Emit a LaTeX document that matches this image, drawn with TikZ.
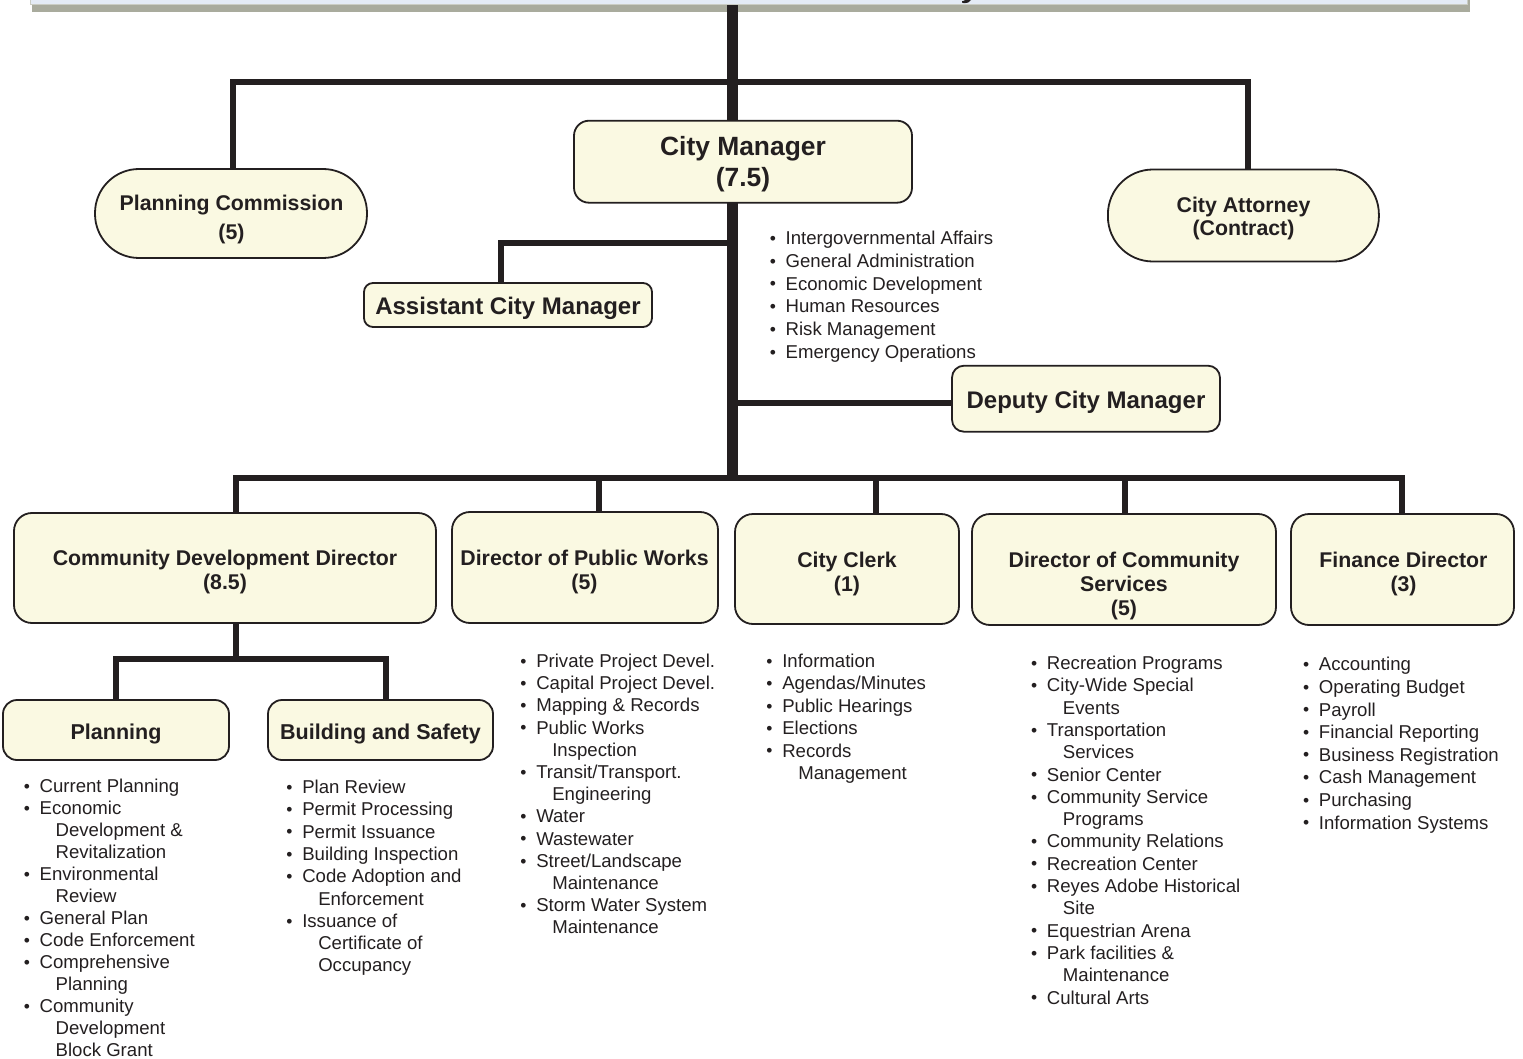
\documentclass[tikz,border=0pt]{standalone}
\usepackage{fontspec}
\setmainfont{Liberation Sans}
\usetikzlibrary{backgrounds}
\definecolor{ink}{RGB}{35,31,32}
\definecolor{boxfill}{RGB}{250,249,226}
\definecolor{bannerfill}{RGB}{228,235,245}
\definecolor{bannershade}{RGB}{169,171,157}
\newcommand{\fs}[2]{\fontsize{#1}{#2}\selectfont}
\newcommand{\bl}[1]{\strut\makebox[16pt][l]{\hspace{0.2pt}\raisebox{0.3pt}{\fs{17.5}{17.5}\textbullet}}#1}
\newcommand{\cl}[1]{\strut\hspace*{32pt}#1}
\tikzset{
  orgbox/.style={draw=ink, line width=1.8pt, fill=boxfill, inner sep=0pt},
  conn/.style={draw=ink, line width=6pt, line join=miter},
  trunkline/.style={draw=ink, line width=11pt},
  ttl/.style={inner sep=0pt, align=center, text=ink},
  blist/.style={anchor=north west, inner sep=0pt, align=left, text=ink},
}
\begin{document}
\begin{tikzpicture}[x=1pt,y=-1pt]
\useasboundingbox (0,0) rectangle (1523,1059);

% banner (cut off at the top)
\node[fill=bannerfill, draw=bannershade!60!white, line width=0.6pt, minimum width=1437pt, minimum height=25pt, inner sep=0pt, anchor=south west] (banner) at (30,5) {};
\fill[ink] (965,0) -- (971,0) .. controls (970,2) and (968,3) .. (964,3.2) .. controls (962.3,3.2) and (961.6,2.2) .. (962,1.2) .. controls (963.5,1) and (964.5,0.8) .. (965,0) -- cycle;

% City Manager
\node[orgbox, rounded corners=15pt, minimum width=338pt, minimum height=82pt] (cm) at (743,161.7) {};
\node[ttl, anchor=north, font=\fs{26.4}{30.3}\bfseries] (cmt) at (743,134.5) {\strut City Manager\\(7.5)};

% Planning Commission
\node[orgbox, rounded corners=44pt, minimum width=272pt, minimum height=89pt] (pc) at (231,213.5) {};
\node[ttl, anchor=north, font=\fs{21.3}{28.3}\bfseries] (pct) at (231.5,190.9) {\strut Planning Commission\\(5)};

% City Attorney
\node[orgbox, rounded corners=45pt, minimum width=271pt, minimum height=92pt] (ca) at (1243.4,215.5) {};
\node[ttl, anchor=north, font=\fs{21.3}{22.5}\bfseries] (cat) at (1243.5,197) {\strut City Attorney\\(Contract)};

% Assistant City Manager
\node[orgbox, rounded corners=9pt, minimum width=288pt, minimum height=44pt] (acm) at (508,305) {};
\node[ttl, anchor=base, font=\fs{24}{28}\bfseries] (acmt) at (508,314) {Assistant City Manager};

% Deputy City Manager
\node[orgbox, rounded corners=12pt, minimum width=268pt, minimum height=66pt] (dcm) at (1086,398.7) {};
\node[ttl, anchor=base, font=\fs{24}{28}\bfseries] (dcmt) at (1086,408) {Deputy City Manager};

% City Manager functions
\node[blist, font=\fs{18.6}{22.8}] (cml) at (769.45,228.4) {\bl{Intergovernmental Affairs}\\\bl{General Administration}\\\bl{Economic Development}\\\bl{Human Resources}\\\bl{Risk Management}\\\bl{Emergency Operations}};

% department boxes
\node[orgbox, rounded corners=18pt, minimum width=422pt, minimum height=110pt] (cd) at (225,568) {};
\node[ttl, anchor=north, font=\fs{21.3}{24.5}\bfseries] (cdt) at (225,547.85) {\strut Community Development Director\\(8.5)};

\node[orgbox, rounded corners=18pt, minimum width=266pt, minimum height=111pt] (pw) at (585,567.5) {};
\node[ttl, anchor=north, font=\fs{21.3}{24.5}\bfseries] (pwt) at (584.5,547.85) {\strut Director of Public Works\\(5)};

\node[orgbox, rounded corners=18pt, minimum width=224pt, minimum height=110pt] (cc) at (847,569) {};
\node[ttl, anchor=north, font=\fs{21.3}{24.5}\bfseries] (cct) at (847,549.85) {\strut City Clerk\\(1)};

\node[orgbox, rounded corners=18pt, minimum width=304pt, minimum height=111pt] (cs) at (1124,569.5) {};
\node[ttl, anchor=north, font=\fs{21.3}{24}\bfseries] (cst) at (1124,550.2) {\strut Director of Community\\Services\\(5)};

\node[orgbox, rounded corners=18pt, minimum width=223pt, minimum height=111pt] (fd) at (1402.5,569.5) {};
\node[ttl, anchor=north, font=\fs{21.3}{24.5}\bfseries] (fdt) at (1403.5,549.85) {\strut Finance Director\\(3)};

% divisions under Community Development
\node[orgbox, rounded corners=14pt, minimum width=226pt, minimum height=60pt] (pl) at (116,730) {};
\node[ttl, anchor=base, font=\fs{21.5}{25}\bfseries] (plt) at (116,739) {Planning};
\node[orgbox, rounded corners=14pt, minimum width=225pt, minimum height=60pt] (bs) at (380.5,730) {};
\node[ttl, anchor=base, font=\fs{21.5}{25}\bfseries] (bst) at (380.5,739) {Building and Safety};

% function lists
\node[blist, font=\fs{18.6}{22}] (pll) at (23.45,776.96) {\bl{Current Planning}\\\bl{Economic}\\\cl{Development \&}\\\cl{Revitalization}\\\bl{Environmental}\\\cl{Review}\\\bl{General Plan}\\\bl{Code Enforcement}\\\bl{Comprehensive}\\\cl{Planning}\\\bl{Community}\\\cl{Development}\\\cl{Block Grant}};

\node[blist, font=\fs{18.6}{22.3}] (bsl) at (286.05,777.75) {\bl{Plan Review}\\\bl{Permit Processing}\\\bl{Permit Issuance}\\\bl{Building Inspection}\\\bl{Code Adoption and}\\\cl{Enforcement}\\\bl{Issuance of}\\\cl{Certificate of}\\\cl{Occupancy}};

\node[blist, font=\fs{18.6}{22.2}] (pwl) at (520.05,651.8) {\bl{Private Project Devel.}\\\bl{Capital Project Devel.}\\\bl{Mapping \& Records}\\\bl{Public Works}\\\cl{Inspection}\\\bl{Transit/Transport.}\\\cl{Engineering}\\\bl{Water}\\\bl{Wastewater}\\\bl{Street/Landscape}\\\cl{Maintenance}\\\bl{Storm Water System}\\\cl{Maintenance}};

\node[blist, font=\fs{18.6}{22.4}] (ccl) at (766.05,651.7) {\bl{Information}\\\bl{Agendas/Minutes}\\\bl{Public Hearings}\\\bl{Elections}\\\bl{Records}\\\cl{Management}};

\node[blist, font=\fs{18.6}{22.3}] (csl) at (1030.75,653.75) {\bl{Recreation Programs}\\\bl{City-Wide Special}\\\cl{Events}\\\bl{Transportation}\\\cl{Services}\\\bl{Senior Center}\\\bl{Community Service}\\\cl{Programs}\\\bl{Community Relations}\\\bl{Recreation Center}\\\bl{Reyes Adobe Historical}\\\cl{Site}\\\bl{Equestrian Arena}\\\bl{Park facilities \&}\\\cl{Maintenance}\\\bl{Cultural Arts}};

\node[blist, font=\fs{18.6}{22.6}] (fdl) at (1302.75,654.84) {\bl{Accounting}\\\bl{Operating Budget}\\\bl{Payroll}\\\bl{Financial Reporting}\\\bl{Business Registration}\\\bl{Cash Management}\\\bl{Purchasing}\\\bl{Information Systems}};

% connectors
\coordinate (trunkx) at (732.5,0);
\coordinate (tb) at (732.5,82);
\coordinate (aj) at (732.5,243.3);
\coordinate (dj) at (732.5,403.3);
\coordinate (busR) at (1401.5,478);
\coordinate (sb) at (236,659);
\begin{scope}[on background layer]
  \fill[bannershade] (32,-20) rectangle (1470,12.5);
  \draw[trunkline] (trunkx |- banner.south) -- (trunkx |- busR);
  \draw[conn] ([xshift=2pt]pc.north) |- (tb) -| ([xshift=4.5pt]ca.north);
  \draw[conn] (aj) -| ([xshift=-7pt]acm.north);
  \draw[conn] (dj) -- (dcm.west |- dj);
  \draw[conn] ([xshift=11pt]cd.north) |- (busR) -- (busR |- fd.north);
  \draw[conn] ([xshift=14pt]pw.north) -- ([xshift=14pt]pw.north |- busR);
  \draw[conn] ([xshift=29pt]cc.north) -- ([xshift=29pt]cc.north |- busR);
  \draw[conn] ([xshift=1pt]cs.north) -- ([xshift=1pt]cs.north |- busR);
  \draw[conn] ([xshift=11pt]cd.south) -- (sb);
  \draw[conn] (pl.north) |- (sb) -| ([xshift=5pt]bs.north);
\end{scope}
\end{tikzpicture}
\end{document}
